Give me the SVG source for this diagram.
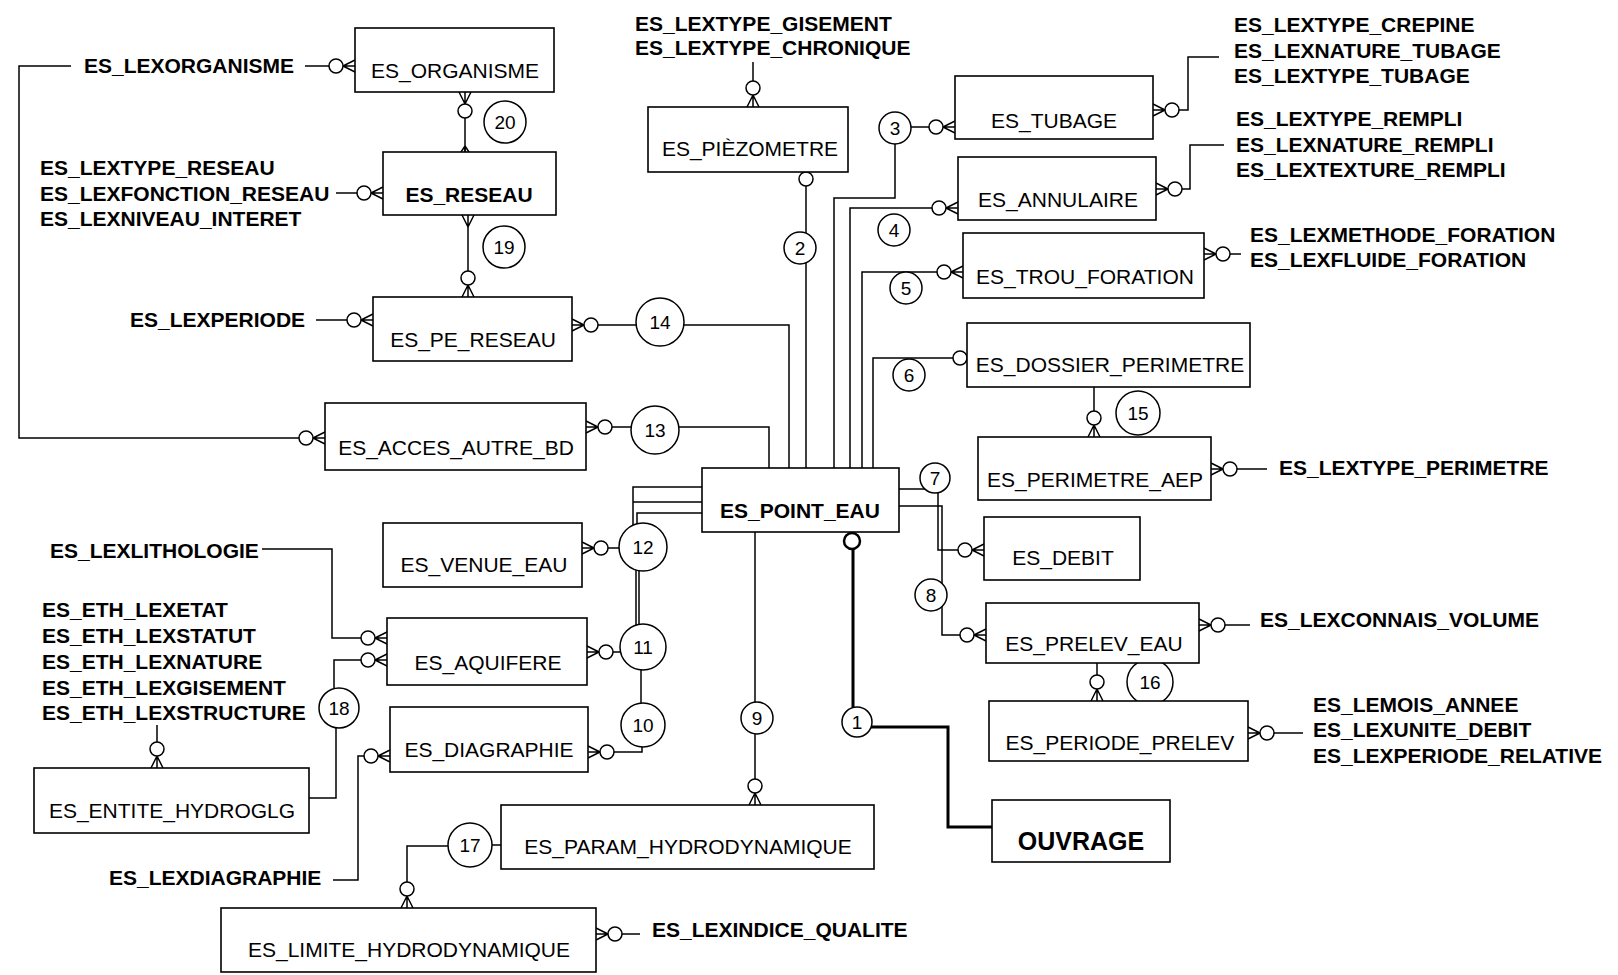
<svg xmlns="http://www.w3.org/2000/svg" xmlns:xlink="http://www.w3.org/1999/xlink" width="1618" height="975" viewBox="0 0 1618 975">
<style>
.bx{fill:#fff;stroke:#000;stroke-width:1.6}
.t{font-family:"Liberation Sans",Arial,sans-serif;font-size:21px;fill:#000}
.tc{text-anchor:middle}
.b{font-weight:bold}
.ln{fill:none;stroke:#000;stroke-width:1.5}
.thk{fill:none;stroke:#000;stroke-width:3}
.oc{fill:#fff;stroke:#000;stroke-width:1.5}
.rc{fill:#fff;stroke:#000;stroke-width:1.5}
.n{font-family:"Liberation Sans",Arial,sans-serif;font-size:19px;text-anchor:middle;fill:#000}
</style>
<defs>
<g id="zm"><path class="ln" d="M-12 0L0-6M-12 0H0M-12 0L0 6"/><circle class="oc" cx="-19" cy="0" r="7"/></g>
<g id="cr"><path class="ln" d="M-12 0L0-6M-12 0H0M-12 0L0 6"/></g>
<g id="cs"><path class="ln" d="M-6 0L0-4M-6 0H0M-6 0L0 4"/></g>
</defs>
<rect width="1618" height="975" fill="#fff"/>

<g id="connectors">
<path class="ln" d="M305 66H336"/>
<path class="ln" d="M71 66H19V438H306"/>
<path class="ln" d="M465 104V152"/>
<path class="ln" d="M468 227V278"/>
<path class="ln" d="M336 193H364"/>
<path class="ln" d="M316 320H354"/>
<path class="ln" d="M591 325H789V468"/>
<path class="ln" d="M605 427H769V468"/>
<path class="ln" d="M753 62V88"/>
<path class="ln" d="M806 186V468"/>
<path class="ln" d="M936 127H895V198H834V468"/>
<path class="ln" d="M939 208H850V468"/>
<path class="ln" d="M944 272H862V468"/>
<path class="ln" d="M953 358H873V468"/>
<path class="ln" d="M899 489H935M938 478V550H965"/>
<path class="ln" d="M899 506H942V635H967"/>
<path class="ln" d="M755 532V786"/>
<path class="thk" d="M853 549V727H948V827H992"/>
<path class="ln" d="M702 487H633V547M702 502H633M702 513H637V547"/>
<path class="ln" d="M601 548H643"/>
<path class="ln" d="M636 547V647M639 547V647"/>
<path class="ln" d="M641 647V725"/>
<path class="ln" d="M606 652H643"/>
<path class="ln" d="M607 752H642V725"/>
<path class="ln" d="M262 549H332V638H368"/>
<path class="ln" d="M368 660H334V708M336 708V798H309"/>
<path class="ln" d="M157 725V749"/>
<path class="ln" d="M333 880H358V756H371"/>
<path class="ln" d="M470 846H407V889M492 845H501"/>
<path class="ln" d="M615 934H640"/>
<path class="ln" d="M1218 625H1250"/>
<path class="ln" d="M1230 469H1267"/>
<path class="ln" d="M1094 387V418"/>
<path class="ln" d="M1097 663V682"/>
<path class="ln" d="M1267 733H1303"/>
<path class="ln" d="M1172 110H1188V57H1219"/>
<path class="ln" d="M1175 189H1190V145H1224"/>
<path class="ln" d="M1223 254H1241"/>

<use xlink:href="#zm" transform="translate(355 66)"/>
<use xlink:href="#zm" transform="translate(325 438)"/>
<use xlink:href="#zm" transform="translate(465 92) rotate(-90)"/>
<use xlink:href="#cs" transform="translate(465 152) rotate(90)"/>
<use xlink:href="#cr" transform="translate(468 215) rotate(-90)"/>
<use xlink:href="#zm" transform="translate(468 297) rotate(90)"/>
<use xlink:href="#zm" transform="translate(383 193)"/>
<use xlink:href="#zm" transform="translate(373 320)"/>
<use xlink:href="#zm" transform="translate(572 325) rotate(180)"/>
<use xlink:href="#zm" transform="translate(586 427) rotate(180)"/>
<use xlink:href="#zm" transform="translate(753 107) rotate(90)"/>
<circle class="oc" cx="806" cy="179" r="7"/>
<use xlink:href="#zm" transform="translate(955 127)"/>
<use xlink:href="#zm" transform="translate(958 208)"/>
<use xlink:href="#zm" transform="translate(963 272)"/>
<circle class="oc" cx="960" cy="358" r="7"/>
<use xlink:href="#zm" transform="translate(984 550)"/>
<use xlink:href="#zm" transform="translate(986 635)"/>
<use xlink:href="#zm" transform="translate(755 805) rotate(90)"/>
<circle cx="852" cy="541" r="8" fill="#fff" stroke="#000" stroke-width="2.5"/>
<use xlink:href="#zm" transform="translate(582 548) rotate(180)"/>
<use xlink:href="#zm" transform="translate(587 652) rotate(180)"/>
<use xlink:href="#zm" transform="translate(588 752) rotate(180)"/>
<use xlink:href="#zm" transform="translate(387 638)"/>
<use xlink:href="#zm" transform="translate(387 660)"/>
<use xlink:href="#zm" transform="translate(157 768) rotate(90)"/>
<use xlink:href="#zm" transform="translate(390 756)"/>
<use xlink:href="#zm" transform="translate(407 908) rotate(90)"/>
<use xlink:href="#zm" transform="translate(596 934) rotate(180)"/>
<use xlink:href="#zm" transform="translate(1199 625) rotate(180)"/>
<use xlink:href="#zm" transform="translate(1211 469) rotate(180)"/>
<use xlink:href="#zm" transform="translate(1094 437) rotate(90)"/>
<use xlink:href="#zm" transform="translate(1097 701) rotate(90)"/>
<use xlink:href="#zm" transform="translate(1248 733) rotate(180)"/>
<use xlink:href="#zm" transform="translate(1153 110) rotate(180)"/>
<use xlink:href="#zm" transform="translate(1156 189) rotate(180)"/>
<use xlink:href="#zm" transform="translate(1204 254) rotate(180)"/>

<g id="rel-20"><circle class="rc" cx="505" cy="122" r="21"/><text class="n" x="505" y="129">20</text></g>
<g id="rel-19"><circle class="rc" cx="504" cy="247" r="21"/><text class="n" x="504" y="254">19</text></g>
<g id="rel-14"><circle class="rc" cx="660" cy="322" r="24"/><text class="n" x="660" y="329">14</text></g>
<g id="rel-13"><circle class="rc" cx="655" cy="430" r="24"/><text class="n" x="655" y="437">13</text></g>
<g id="rel-2"><circle class="rc" cx="800" cy="248" r="16"/><text class="n" x="800" y="255">2</text></g>
<g id="rel-3"><circle class="rc" cx="895" cy="128" r="16"/><text class="n" x="895" y="135">3</text></g>
<g id="rel-4"><circle class="rc" cx="894" cy="230" r="16"/><text class="n" x="894" y="237">4</text></g>
<g id="rel-5"><circle class="rc" cx="906" cy="288" r="16"/><text class="n" x="906" y="295">5</text></g>
<g id="rel-6"><circle class="rc" cx="909" cy="375" r="16"/><text class="n" x="909" y="382">6</text></g>
<g id="rel-7"><circle class="rc" cx="935" cy="478" r="15"/><text class="n" x="935" y="485">7</text></g>
<g id="rel-8"><circle class="rc" cx="931" cy="595" r="16"/><text class="n" x="931" y="602">8</text></g>
<g id="rel-9"><circle class="rc" cx="757" cy="718" r="16"/><text class="n" x="757" y="725">9</text></g>
<g id="rel-1"><circle class="rc" cx="857" cy="722" r="15" stroke-width="2"/><text class="n" x="857" y="729">1</text></g>
<g id="rel-12"><circle class="rc" cx="643" cy="547" r="24"/><text class="n" x="643" y="554">12</text></g>
<g id="rel-11"><circle class="rc" cx="643" cy="647" r="23"/><text class="n" x="643" y="654">11</text></g>
<g id="rel-10"><circle class="rc" cx="643" cy="725" r="22"/><text class="n" x="643" y="732">10</text></g>
<g id="rel-18"><circle class="rc" cx="339" cy="708" r="20"/><text class="n" x="339" y="715">18</text></g>
<g id="rel-17"><circle class="rc" cx="470" cy="845" r="22"/><text class="n" x="470" y="852">17</text></g>
<g id="rel-15"><circle class="rc" cx="1138" cy="413" r="22"/><text class="n" x="1138" y="420">15</text></g>
<g id="rel-16"><circle class="rc" cx="1150" cy="682" r="23"/><text class="n" x="1150" y="689">16</text></g>
</g>

<g id="ES_ORGANISME"><rect class="bx" x="355" y="28" width="199" height="64"/><text class="t tc" x="455" y="78">ES_ORGANISME</text></g>
<g id="ES_RESEAU"><rect class="bx" x="383" y="152" width="173" height="63"/><text class="t tc b" x="469" y="202">ES_RESEAU</text></g>
<g id="ES_PE_RESEAU"><rect class="bx" x="373" y="297" width="199" height="64"/><text class="t tc" x="473" y="347">ES_PE_RESEAU</text></g>
<g id="ES_ACCES_AUTRE_BD"><rect class="bx" x="325" y="403" width="261" height="67"/><text class="t tc" x="456" y="455">ES_ACCES_AUTRE_BD</text></g>
<g id="ES_PIEZOMETRE"><rect class="bx" x="648" y="107" width="200" height="65"/><text class="t tc" x="750" y="156">ES_PIÈZOMETRE</text></g>
<g id="ES_POINT_EAU"><rect class="bx" x="702" y="468" width="197" height="64"/><text class="t tc b" x="800" y="518">ES_POINT_EAU</text></g>
<g id="ES_TUBAGE"><rect class="bx" x="955" y="76" width="198" height="63"/><text class="t tc" x="1054" y="128">ES_TUBAGE</text></g>
<g id="ES_ANNULAIRE"><rect class="bx" x="958" y="157" width="198" height="63"/><text class="t tc" x="1058" y="207">ES_ANNULAIRE</text></g>
<g id="ES_TROU_FORATION"><rect class="bx" x="963" y="233" width="241" height="65"/><text class="t tc" x="1085" y="284">ES_TROU_FORATION</text></g>
<g id="ES_DOSSIER_PERIMETRE"><rect class="bx" x="967" y="323" width="283" height="64"/><text class="t tc" x="1110" y="372">ES_DOSSIER_PERIMETRE</text></g>
<g id="ES_PERIMETRE_AEP"><rect class="bx" x="978" y="437" width="233" height="63"/><text class="t tc" x="1095" y="487">ES_PERIMETRE_AEP</text></g>
<g id="ES_DEBIT"><rect class="bx" x="984" y="517" width="156" height="63"/><text class="t tc" x="1063" y="565">ES_DEBIT</text></g>
<g id="ES_PRELEV_EAU"><rect class="bx" x="986" y="603" width="213" height="60"/><text class="t tc" x="1094" y="651">ES_PRELEV_EAU</text></g>
<g id="ES_PERIODE_PRELEV"><rect class="bx" x="989" y="701" width="259" height="60"/><text class="t tc" x="1120" y="750">ES_PERIODE_PRELEV</text></g>
<g id="OUVRAGE"><rect class="bx" x="992" y="800" width="178" height="62" stroke-width="2"/><text class="t tc b" x="1081" y="850" style="font-size:25px">OUVRAGE</text></g>
<g id="ES_VENUE_EAU"><rect class="bx" x="383" y="523" width="199" height="64"/><text class="t tc" x="484" y="572">ES_VENUE_EAU</text></g>
<g id="ES_AQUIFERE"><rect class="bx" x="387" y="618" width="200" height="67"/><text class="t tc" x="488" y="670">ES_AQUIFERE</text></g>
<g id="ES_DIAGRAPHIE"><rect class="bx" x="390" y="707" width="198" height="65"/><text class="t tc" x="489" y="757">ES_DIAGRAPHIE</text></g>
<g id="ES_ENTITE_HYDROGLG"><rect class="bx" x="34" y="768" width="275" height="65"/><text class="t tc" x="172" y="818">ES_ENTITE_HYDROGLG</text></g>
<g id="ES_PARAM_HYDRODYNAMIQUE"><rect class="bx" x="501" y="805" width="373" height="64"/><text class="t tc" x="688" y="854">ES_PARAM_HYDRODYNAMIQUE</text></g>
<g id="ES_LIMITE_HYDRODYNAMIQUE"><rect class="bx" x="221" y="908" width="375" height="64"/><text class="t tc" x="409" y="957">ES_LIMITE_HYDRODYNAMIQUE</text></g>

<g id="lex-organisme"><text class="t b" x="84" y="73">ES_LEXORGANISME</text></g>
<g id="lex-reseau"><text class="t b" x="40" y="175">ES_LEXTYPE_RESEAU</text><text class="t b" x="40" y="201">ES_LEXFONCTION_RESEAU</text><text class="t b" x="40" y="226">ES_LEXNIVEAU_INTERET</text></g>
<g id="lex-periode"><text class="t b" x="130" y="327">ES_LEXPERIODE</text></g>
<g id="lex-piezo"><text class="t b" x="635" y="31">ES_LEXTYPE_GISEMENT</text><text class="t b" x="635" y="55">ES_LEXTYPE_CHRONIQUE</text></g>
<g id="lex-tubage"><text class="t b" x="1234" y="32">ES_LEXTYPE_CREPINE</text><text class="t b" x="1234" y="58">ES_LEXNATURE_TUBAGE</text><text class="t b" x="1234" y="83">ES_LEXTYPE_TUBAGE</text></g>
<g id="lex-rempli"><text class="t b" x="1236" y="126">ES_LEXTYPE_REMPLI</text><text class="t b" x="1236" y="152">ES_LEXNATURE_REMPLI</text><text class="t b" x="1236" y="177">ES_LEXTEXTURE_REMPLI</text></g>
<g id="lex-foration"><text class="t b" x="1250" y="242">ES_LEXMETHODE_FORATION</text><text class="t b" x="1250" y="267">ES_LEXFLUIDE_FORATION</text></g>
<g id="lex-perimetre"><text class="t b" x="1279" y="475">ES_LEXTYPE_PERIMETRE</text></g>
<g id="lex-volume"><text class="t b" x="1260" y="627">ES_LEXCONNAIS_VOLUME</text></g>
<g id="lex-prelev"><text class="t b" x="1313" y="712">ES_LEMOIS_ANNEE</text><text class="t b" x="1313" y="737">ES_LEXUNITE_DEBIT</text><text class="t b" x="1313" y="763">ES_LEXPERIODE_RELATIVE</text></g>
<g id="lex-qualite"><text class="t b" x="652" y="937">ES_LEXINDICE_QUALITE</text></g>
<g id="lex-litho"><text class="t b" x="50" y="558">ES_LEXLITHOLOGIE</text></g>
<g id="lex-eth"><text class="t b" x="42" y="617">ES_ETH_LEXETAT</text><text class="t b" x="42" y="643">ES_ETH_LEXSTATUT</text><text class="t b" x="42" y="669">ES_ETH_LEXNATURE</text><text class="t b" x="42" y="695">ES_ETH_LEXGISEMENT</text><text class="t b" x="42" y="720">ES_ETH_LEXSTRUCTURE</text></g>
<g id="lex-diagraphie"><text class="t b" x="109" y="885">ES_LEXDIAGRAPHIE</text></g>
</svg>
